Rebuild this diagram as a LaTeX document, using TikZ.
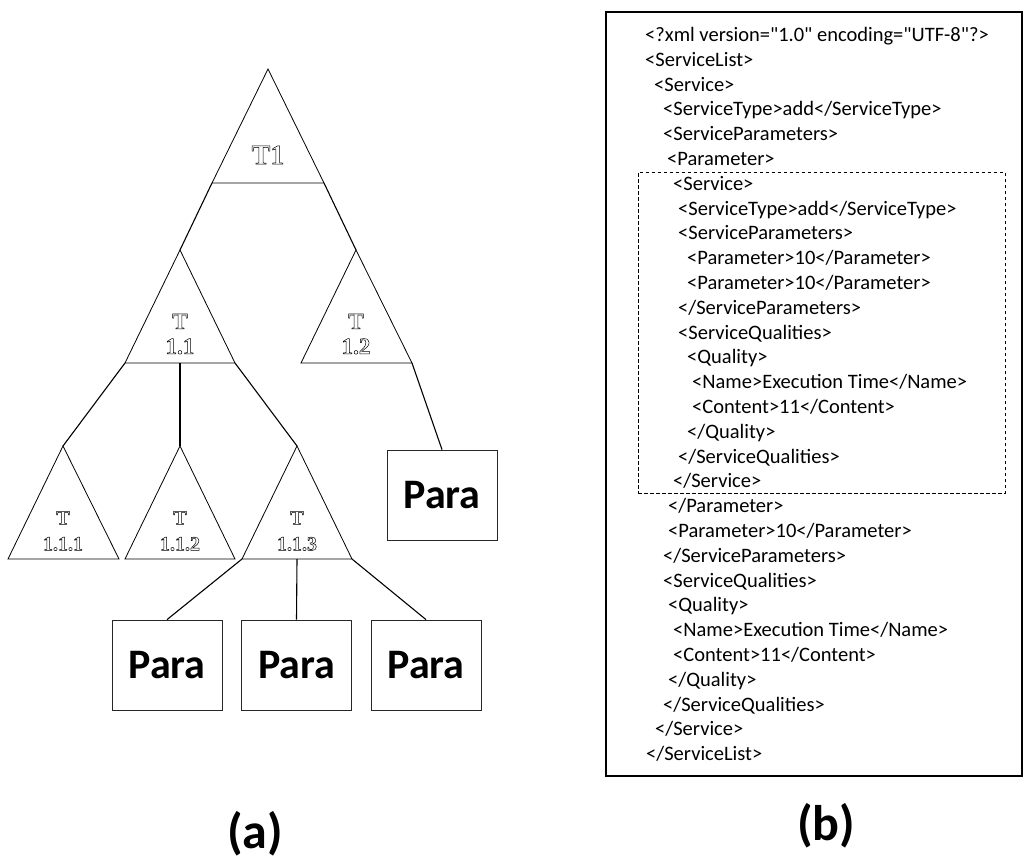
\documentclass[tikz,border=0pt]{standalone}
\usepackage{fontspec}
\setmainfont{Carlito}
\newfontfamily\xmlfont{Carlito}[Ligatures=TeXOff]
\newfontfamily\boldsans{Carlito}[BoldFont={Carlito Bold}]
\newfontfamily\tfont{Liberation Serif}[Ligatures=TeXOff]
\newcommand\outl[1]{\special{pdf:literal direct 1 Tr 0.5 w}#1\special{pdf:literal direct 0 Tr}}
\begin{document}
\begin{tikzpicture}[x=1pt,y=-1pt,
  tri/.style={draw=black,line width=0.8pt,line join=miter},
  conn/.style={draw=black,line width=1.1pt},
  parabox/.style={draw=black!85,line width=0.8pt,minimum width=110pt,minimum height=90pt,inner sep=0pt,
    font=\boldsans\bfseries\fontsize{42}{46}\selectfont},
  tbig/.style={inner sep=0pt,font=\tfont\bfseries\fontsize{28}{30}\selectfont},
  tmid/.style={inner sep=0pt,align=center,font=\tfont\bfseries\fontsize{23}{25}\selectfont},
  tsmall/.style={inner sep=0pt,align=center,font=\tfont\bfseries\fontsize{20}{26}\selectfont},
  xml/.style={inner sep=0pt,anchor=base west,font=\xmlfont\fontsize{20.5}{24.8}\selectfont},
  caption/.style={inner sep=0pt,font=\boldsans\bfseries\fontsize{50}{55}\selectfont}]
\useasboundingbox (0,0) rectangle (1025,860);
\fill[white] (0,0) rectangle (1025,860);

% ---------- triangles ----------
% T1
\coordinate (t1a) at (268,69); \coordinate (t1l) at (212,183); \coordinate (t1r) at (324,183);
% T1.1
\coordinate (t11a) at (180,250); \coordinate (t11l) at (125,363); \coordinate (t11r) at (235,363); \coordinate (t11m) at (180,363);
% T1.2
\coordinate (t12a) at (356,250); \coordinate (t12l) at (301,363); \coordinate (t12r) at (412,363);
% T1.1.1
\coordinate (t111a) at (63,446); \coordinate (t111l) at (8,559); \coordinate (t111r) at (119,559);
% T1.1.2
\coordinate (t112a) at (180,446); \coordinate (t112l) at (125,559); \coordinate (t112r) at (235,559);
% T1.1.3
\coordinate (t113a) at (297,446); \coordinate (t113l) at (242,559); \coordinate (t113r) at (352,559); \coordinate (t113m) at (297,559);

\foreach \t in {t1,t11,t12,t111,t112,t113}
  \draw[tri] (\t a) -- (\t r) -- (\t l) -- cycle;

\node[tbig] (T1) at (268,155) {\outl{T1}};
\node[tmid] (T11) at (180,334) {\outl{T}\\\outl{1.1}};
\node[tmid] (T12) at (356,334) {\outl{T}\\\outl{1.2}};
\node[tsmall] (T111) at (63,531) {\outl{T}\\\outl{1.1.1}};
\node[tsmall] (T112) at (180,531) {\outl{T}\\\outl{1.1.2}};
\node[tsmall] (T113) at (297,531) {\outl{T}\\\outl{1.1.3}};

% ---------- Para boxes ----------
\node[parabox] (p1) at (167,665) {Para};
\node[parabox] (p2) at (296.5,665) {Para};
\node[parabox] (p3) at (426,665) {Para};
\node[parabox] (p4) at (442,495) {Para};

% ---------- connectors ----------
\draw[conn] (t1l) -- (t11a);
\draw[conn] (t1r) -- (t12a);
\draw[conn] (t11l) -- (t111a);
\draw[conn] (t11m) -- (t112a);
\draw[conn] (t11r) -- (t113a);
\draw[conn] (t12r) -- (p4.north);
\draw[conn] (t113l) -- (p1.north);
\draw[conn] (t113m) -- (p2.north);
\draw[conn] (t113r) -- (p3.north);

% ---------- XML panel ----------
\node[draw=black,line width=1.2pt,minimum width=416pt,minimum height=764pt,inner sep=0pt] (outer) at (814,394) {};
\node[draw=black,dashed,dash pattern=on 3.5pt off 2.5pt,line width=0.8pt,minimum width=367pt,minimum height=321pt,inner sep=0pt] (inner) at (821.5,332.5) {};

\newcommand\xl[3]{\node[xml] (l#1) at (#2,{41.5+24.8*(#1-1)}) {#3};}
\xl{1}{645}{<?xml version="1.0" encoding="UTF-8"?>}
\xl{2}{645}{<ServiceList>}
\xl{3}{654}{<Service>}
\xl{4}{663}{<ServiceType>add</ServiceType>}
\xl{5}{663}{<ServiceParameters>}
\xl{6}{667}{<Parameter>}
\xl{7}{673}{<Service>}
\xl{8}{678}{<ServiceType>add</ServiceType>}
\xl{9}{678}{<ServiceParameters>}
\xl{10}{687}{<Parameter>10</Parameter>}
\xl{11}{687}{<Parameter>10</Parameter>}
\xl{12}{678}{</ServiceParameters>}
\xl{13}{678}{<ServiceQualities>}
\xl{14}{687}{<Quality>}
\xl{15}{692}{<Name>Execution Time</Name>}
\xl{16}{692}{<Content>11</Content>}
\xl{17}{687}{</Quality>}
\xl{18}{678}{</ServiceQualities>}
\xl{19}{673}{</Service>}
\xl{20}{668}{</Parameter>}
\xl{21}{668}{<Parameter>10</Parameter>}
\xl{22}{663}{</ServiceParameters>}
\xl{23}{663}{<ServiceQualities>}
\xl{24}{668}{<Quality>}
\xl{25}{673}{<Name>Execution Time</Name>}
\xl{26}{673}{<Content>11</Content>}
\xl{27}{668}{</Quality>}
\xl{28}{663}{</ServiceQualities>}
\xl{29}{655}{</Service>}
\xl{30}{646}{</ServiceList>}

% ---------- captions ----------
\node[caption] (capa) at (255,834) {(a)};
\node[caption] (capb) at (826,826) {(b)};
\end{tikzpicture}
\end{document}
